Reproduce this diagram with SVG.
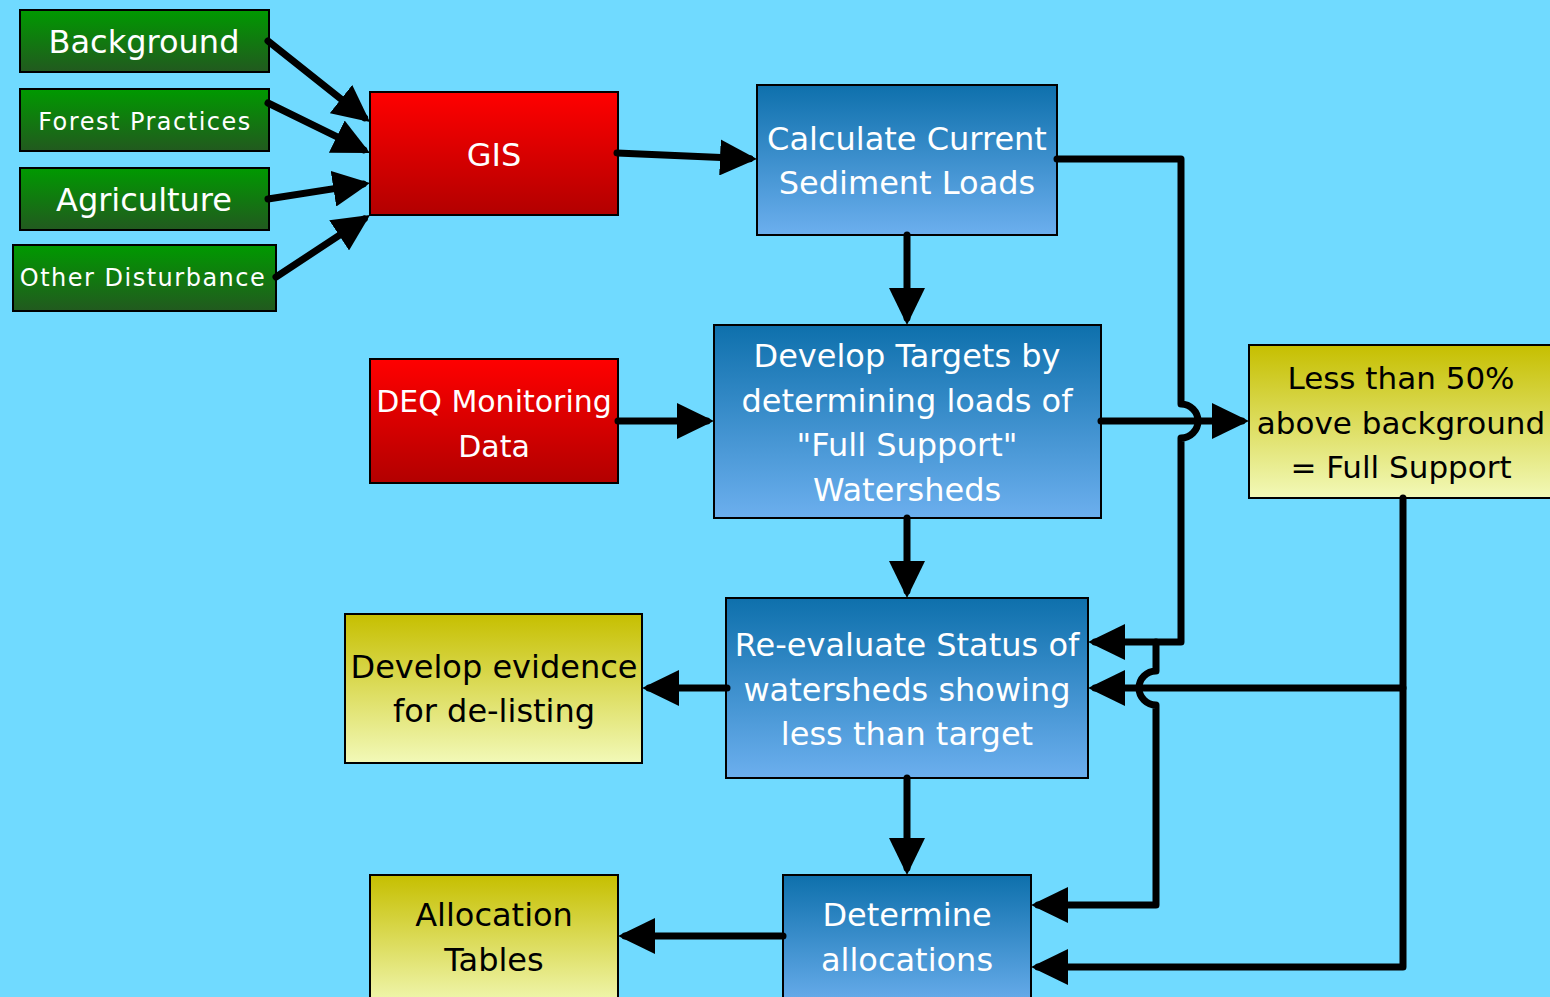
<svg xmlns="http://www.w3.org/2000/svg" width="1550" height="997" viewBox="0 0 1550 997">
<defs>
<linearGradient id="gGreen" x1="0" y1="0" x2="0" y2="1"><stop offset="0" stop-color="#009A00"/><stop offset="1" stop-color="#22591F"/></linearGradient>
<linearGradient id="gRed" x1="0" y1="0" x2="0" y2="1"><stop offset="0" stop-color="#FF0000"/><stop offset="1" stop-color="#B20000"/></linearGradient>
<linearGradient id="gBlue" x1="0" y1="0" x2="0" y2="1"><stop offset="0" stop-color="#0E70AC"/><stop offset="1" stop-color="#6CAFEE"/></linearGradient>
<linearGradient id="gYellow" x1="0" y1="0" x2="0" y2="1"><stop offset="0" stop-color="#C6BF00"/><stop offset="1" stop-color="#F2F9B8"/></linearGradient>
<marker id="arr" viewBox="0 0 37 36" refX="30" refY="18" markerWidth="37" markerHeight="36" markerUnits="userSpaceOnUse" orient="auto"><path d="M0,0 L37,18 L0,36 z" fill="#000"/></marker>
</defs>
<style>
.box{stroke:#000;stroke-width:2}
.g{fill:url(#gGreen)}
.r{fill:url(#gRed)}
.b{fill:url(#gBlue)}
.y{fill:url(#gYellow)}
text{font-family:"DejaVu Sans",sans-serif;font-size:32px;text-anchor:middle;fill:#fff}
.sm{font-size:24px;letter-spacing:1.5px}
.f30{font-size:30px}
.f31{font-size:31px}
.dk{fill:#000}
.c{fill:none;stroke:#000;stroke-width:7;stroke-linecap:round;stroke-linejoin:round}
.a{marker-end:url(#arr)}
</style>
<rect width="1550" height="997" fill="#70DAFF"/>
<g id="n-background"><rect class="box g" x="20" y="10" width="249" height="62"/><text x="144" y="53">Background</text></g>
<g id="n-forest"><rect class="box g" x="20" y="89" width="249" height="62"/><text class="sm" x="145" y="130">Forest Practices</text></g>
<g id="n-agri"><rect class="box g" x="20" y="168" width="249" height="62"/><text x="144" y="211">Agriculture</text></g>
<g id="n-other"><rect class="box g" x="13" y="245" width="263" height="66"/><text class="sm" x="143" y="286">Other Disturbance</text></g>
<g id="n-gis"><rect class="box r" x="370" y="92" width="248" height="123"/><text x="494" y="166">GIS</text></g>
<g id="n-deq"><rect class="box r" x="370" y="359" width="248" height="124"/><text class="f30" x="494" y="412">DEQ Monitoring</text><text class="f30" x="494" y="457">Data</text></g>
<g id="n-calc"><rect class="box b" x="757" y="85" width="300" height="150"/><text x="907" y="150">Calculate Current</text><text x="907" y="194">Sediment Loads</text></g>
<g id="n-targets"><rect class="box b" x="714" y="325" width="387" height="193"/><text x="907" y="367">Develop Targets by</text><text x="907" y="412">determining loads of</text><text x="907" y="456">"Full Support"</text><text x="907" y="501">Watersheds</text></g>
<g id="n-full"><rect class="box y" x="1249" y="345" width="310" height="153"/><text class="dk f31" x="1401" y="389">Less than 50%</text><text class="dk f31" x="1401" y="434">above background</text><text class="dk f31" x="1401" y="478">= Full Support</text></g>
<g id="n-reeval"><rect class="box b" x="726" y="598" width="362" height="180"/><text x="907" y="656">Re-evaluate Status of</text><text x="907" y="701">watersheds showing</text><text x="907" y="745">less than target</text></g>
<g id="n-evidence"><rect class="box y" x="345" y="614" width="297" height="149"/><text class="dk" x="494" y="678">Develop evidence</text><text class="dk" x="494" y="722">for de-listing</text></g>
<g id="n-determine"><rect class="box b" x="783" y="875" width="248" height="135"/><text x="907" y="926">Determine</text><text x="907" y="971">allocations</text></g>
<g id="n-alloc"><rect class="box y" x="370" y="875" width="248" height="135"/><text class="dk" x="494" y="926">Allocation</text><text class="dk" x="494" y="971">Tables</text></g>
<g id="connectors">
<path class="c a" d="M268,41 L364.5,117.7"/>
<path class="c a" d="M268,103 L363.7,149.9"/>
<path class="c a" d="M268,199 L363.1,184.1"/>
<path class="c a" d="M276,277 L364.2,218.9"/>
<path class="c a" d="M617,153 L750,158.7"/>
<path class="c a" d="M907,235 V318"/>
<path class="c a" d="M618,421 H707"/>
<path class="c a" d="M1101,421 H1242"/>
<path class="c a" d="M907,518 V591"/>
<path class="c a" d="M727,688 H649"/>
<path class="c a" d="M907,778 V868"/>
<path class="c a" d="M783,936 H625"/>
<path class="c a" d="M1057,159 H1181 V404 A17,17 0 0 1 1181,438 V642 H1095"/>
<path class="c a" d="M1156,642 V671 A17,17 0 0 0 1156,705 V905 H1038"/>
<path class="c a" d="M1403,498 V967 H1038"/>
<path class="c a" d="M1403,688 H1095"/>
</g>
</svg>
